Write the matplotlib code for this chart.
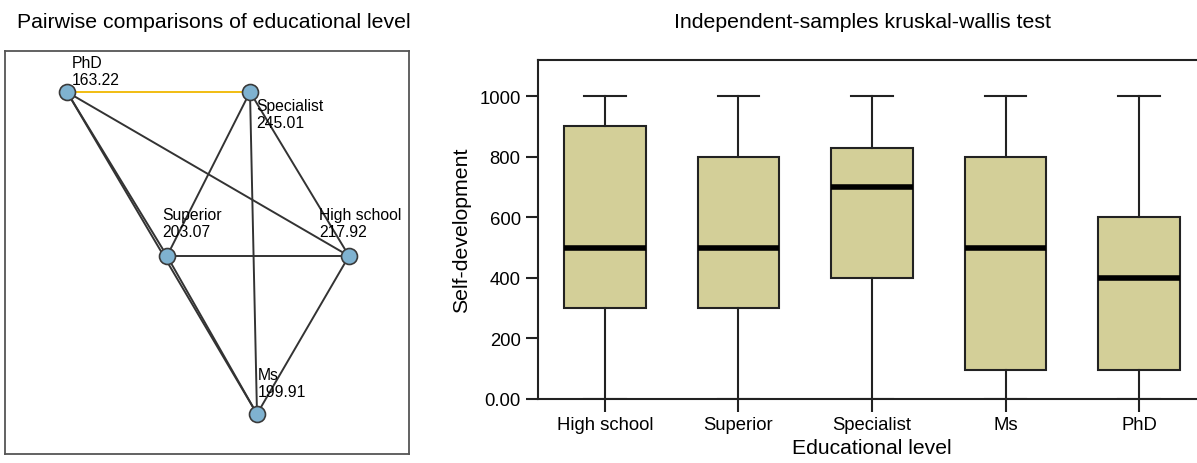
import numpy as np, matplotlib
matplotlib.use("Agg")
import matplotlib.pyplot as plt

plt.rcParams["font.family"] = ["Liberation Sans", "DejaVu Sans"]

# boxplot data (Self-development by educational level)
levels = ["High school", "Superior", "Specialist", "Ms", "PhD"]
whislo = [0, 0, 0, 0, 0]
q1 = [300, 300, 400, 95, 95]
med = [500, 500, 700, 500, 400]
q3 = [900, 800, 828, 800, 600]
whishi = [1000, 1000, 1000, 1000, 1000]
yticks = [0, 200, 400, 600, 800, 1000]
ytick_labels = ["0.00", "200", "400", "600", "800", "1000"]

# pairwise comparison graph: mean ranks
nodes = ["PhD", "Specialist", "Superior", "High school", "Ms"]
mean_rank = [163.22, 245.01, 203.07, 217.92, 199.91]
edges = [("PhD", "Specialist"), ("PhD", "High school"), ("PhD", "Superior"), ("PhD", "Ms"),
         ("Specialist", "Superior"), ("Specialist", "Ms"), ("Specialist", "High school"),
         ("Superior", "High school"), ("Superior", "Ms"), ("High school", "Ms")]
highlight = [("PhD", "Specialist")]

# graph layout (pixel-like layout coords) and label offsets
pos = {"PhD": (67, 93), "Specialist": (250, 93), "Superior": (167, 257),
       "High school": (349, 257), "Ms": (257, 415)}
lab_off = {"PhD": (5, -37), "Specialist": (6, 6), "Superior": (-5, -49),
           "High school": (-30, -49), "Ms": (1, -47)}

fig = plt.figure(figsize=(11.97, 4.64), dpi=100)

# ---- left: network
axl = fig.add_axes([5/1197, 9/464, 404/1197, 403/464])
axl.set_xlim(5, 409); axl.set_ylim(455, 52)
axl.set_xticks([]); axl.set_yticks([])
for s in axl.spines.values():
    s.set_color("#555555"); s.set_linewidth(1.3)
for a, b in edges:
    (x1, y1), (x2, y2) = pos[a], pos[b]
    hl = (a, b) in highlight
    axl.plot([x1, x2], [y1, y2], color="#f0b800" if hl else "#333333",
             lw=1.3 if hl else 1.4, zorder=1)
for n, r in zip(nodes, mean_rank):
    x, y = pos[n]
    axl.plot(x, y, "o", ms=11.5, mfc="#7fb2d0", mec="#3a3a3a", mew=1.2, zorder=3)
    dx, dy = lab_off[n]
    axl.text(x + dx, y + dy, f"{n}\n{r:.2f}", fontsize=11.3, va="top", ha="left",
             linespacing=1.2, zorder=4)
fig.text(214/1197, 1 - 22/464, "Pairwise comparisons of educational level",
         ha="center", va="center", fontsize=15.3)

# ---- right: boxplot
axr = fig.add_axes([538/1197, 64/464, 668/1197, 339/464])
stats = [dict(whislo=a, q1=b, med=c, q3=d, whishi=e, label=l)
         for a, b, c, d, e, l in zip(whislo, q1, med, q3, whishi, levels)]
axr.bxp(stats, positions=range(len(levels)), widths=0.61, showfliers=False,
        patch_artist=True,
        boxprops=dict(facecolor="#d3cf98", edgecolor="#222222", lw=1.5),
        medianprops=dict(color="black", lw=4),
        whiskerprops=dict(color="#222222", lw=1.5),
        capprops=dict(color="#222222", lw=1.5), capwidths=0.31)
axr.set_xlim(-0.5, len(levels) - 0.5)
axr.set_ylim(0, 1119)
axr.set_yticks(yticks); axr.set_yticklabels(ytick_labels)
axr.set_xticks(range(len(levels))); axr.set_xticklabels(levels)
axr.tick_params(axis="both", direction="out", length=9, width=1.5, labelsize=13.3, color="#222222")
axr.spines["right"].set_visible(False)
for s in ["left", "top", "bottom"]:
    axr.spines[s].set_linewidth(1.5); axr.spines[s].set_color("#222222")
axr.set_ylabel("Self-development", fontsize=15.3, labelpad=6)
axr.set_xlabel("Educational level", fontsize=15.2, labelpad=3)
fig.text(863/1197, 1 - 22/464, "Independent-samples kruskal-wallis test",
         ha="center", va="center", fontsize=15.3)

fig.savefig("out.png", dpi=100)
